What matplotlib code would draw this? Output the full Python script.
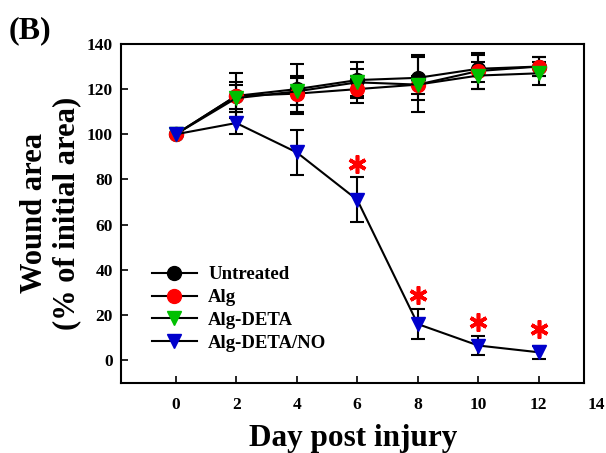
import matplotlib
matplotlib.use('Agg')
import matplotlib.pyplot as plt
from matplotlib.lines import Line2D
from matplotlib.transforms import blended_transform_factory, offset_copy

# wound closure data
days = [0, 2, 4, 6, 8, 10, 12]
untreated = [100, 117, 120, 124, 125, 129, 130]
untreated_err = [0, 10, 11, 8, 10, 6, 4]
alg = [100, 117, 118, 120, 122, 128, 130]
alg_err = [0, 6, 8, 6, 12, 8, 4]
alg_deta = [100, 116, 119, 123, 122, 126, 127]
alg_deta_err = [0, 6, 6, 6, 4, 6, 5]
alg_deta_no = [100, 105, 92, 71, 16, 6.5, 3.5]
alg_deta_no_err = [0, 5, 10, 10, 6.5, 4, 3]
star_days = [6, 8, 10, 12]
star_y = [87, 29, 17, 14]
xticks = [0, 2, 4, 6, 8, 10, 12]
yticks = [0, 20, 40, 60, 80, 100, 120, 140]

plt.rcParams['font.family'] = ['Liberation Serif', 'DejaVu Serif']
plt.rcParams['font.weight'] = 'bold'

fig = plt.figure(figsize=(6.06, 4.53), dpi=100)
ax = fig.add_axes([0.2, 0.155, 0.764, 0.748])

series = [
    ('Untreated', untreated, untreated_err, 'black', 'o'),
    ('Alg', alg, alg_err, 'red', 'o'),
    ('Alg-DETA', alg_deta, alg_deta_err, '#00c000', 'v'),
    ('Alg-DETA/NO', alg_deta_no, alg_deta_no_err, '#0000cc', 'v'),
]
handles = []
for name, vals, errs, col, mk in series:
    ax.errorbar(days, vals, yerr=errs, color='black', lw=1.5,
                marker=mk, markersize=10, markerfacecolor=col,
                markeredgecolor=col, ecolor='black', elinewidth=1.5,
                capsize=5, capthick=1.5)
    handles.append(Line2D([], [], color='black', lw=1.5, marker=mk,
                          markersize=10, markerfacecolor=col,
                          markeredgecolor=col, label=name))

# significance asterisks
ax.plot(star_days, star_y, linestyle='none', marker=(6, 2, 0),
        markersize=13, markeredgewidth=2.6, color='red')

ax.set_xlim(-1.8, 13.5)
ax.set_ylim(-10, 140)
ax.set_xticks(xticks)
ax.set_yticks(yticks)
ax.tick_params(direction='in', labelsize=12.5, width=1.2, length=5)
ax.tick_params(axis='x', pad=10)
ax.tick_params(axis='y', pad=6)
for lab in ax.get_xticklabels() + ax.get_yticklabels():
    lab.set_fontweight('bold')
for sp in ax.spines.values():
    sp.set_linewidth(1.5)

# the "14" label sits past the right edge of the axes
tr = offset_copy(blended_transform_factory(ax.transData, ax.transAxes),
                 fig=fig, y=-10, units='points')
ax.text(13.9, 0, '14', transform=tr, ha='center', va='top',
        fontsize=12.5, fontweight='bold', clip_on=False)

ax.set_xlabel('Day post injury', fontsize=22.5, fontweight='bold', labelpad=8)
ax.set_ylabel('Wound area\n(% of initial area)', fontsize=22,
              fontweight='bold', labelpad=4, linespacing=1.15)

ax.legend(handles=handles, loc='lower left', bbox_to_anchor=(0.03, 0.042),
          frameon=False, handlelength=2.4, labelspacing=0.3,
          handletextpad=0.6, prop={'weight': 'bold', 'size': 13.5})

fig.text(0.015, 0.965, '(B)', fontsize=23, fontweight='bold', va='top')

fig.savefig('out.png', dpi=100)
